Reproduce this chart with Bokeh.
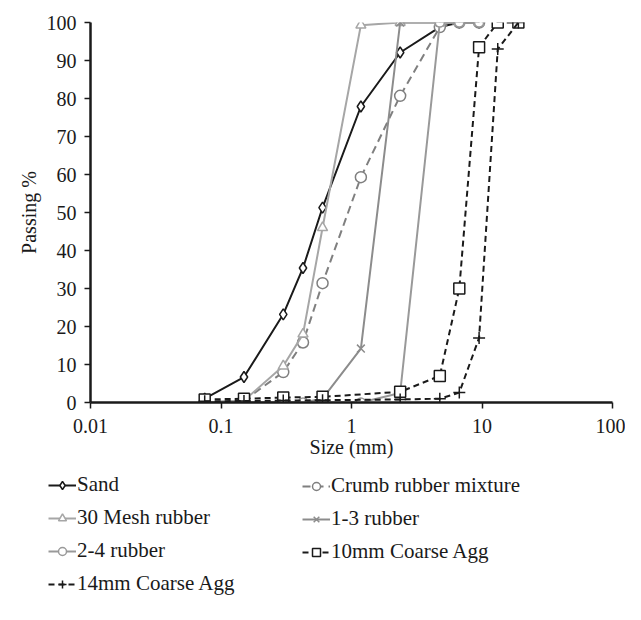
from bokeh.plotting import figure
from bokeh.models import Legend, LegendItem, FixedTicker
from bokeh.embed import file_html
from bokeh.resources import INLINE

# ---- data ----
sieves_fine = [0.075, 0.15, 0.3, 0.425, 0.6, 1.18, 2.36, 4.75, 6.7, 9.5]
sieves_coarse = [0.075, 0.15, 0.3, 0.6, 2.36, 4.75, 6.7, 9.5, 13.2, 19]

sand = [1.0, 6.7, 23.2, 35.4, 51.3, 77.9, 92.1, 98.8, 100, 100]
crumb = [0.0, 0.5, 8.0, 15.8, 31.4, 59.3, 80.7, 98.8, 100, 100]
mesh30 = [0.0, 0.5, 9.6, 18.0, 46.0, 99.3, 100, 100, 100, 100]
rub13 = [0.0, 0.0, 0.0, 0.0, 1.0, 14.2, 100, 100, 100, 100]
rub24 = [0.0, 0.0, 0.0, 0.0, 0.0, 0.0, 2.5, 100, 100, 100]
agg10 = [0.8, 1.0, 1.3, 1.5, 2.8, 7.0, 30.0, 93.5, 100, 100]
agg14 = [0.3, 0.4, 0.5, 0.6, 0.8, 1.0, 2.6, 17.0, 93.0, 100]

x_ticks = [0.01, 0.1, 1, 10, 100]
y_ticks = [0, 10, 20, 30, 40, 50, 60, 70, 80, 90, 100]

FONT = "Liberation Serif"
W = 625
H_MAIN = 460
H_LEG = 144

p = figure(width=W, height=H_MAIN, x_axis_type="log", x_range=(0.01, 100), y_range=(0, 100),
           output_backend="svg", toolbar_location=None,
           min_border_left=90, min_border_right=W - 612, min_border_top=22,
           min_border_bottom=H_MAIN - 403)
p.outline_line_color = None
p.xgrid.visible = False
p.ygrid.visible = False

for ax in (p.xaxis[0], p.yaxis[0]):
    ax.axis_line_width = 2.5
    ax.axis_line_color = "#1a1a1a"
    ax.major_tick_line_width = 1.5
    ax.major_tick_line_color = "#1a1a1a"
    ax.major_tick_out = 6
    ax.major_tick_in = 0
    ax.minor_tick_line_color = None
    ax.major_label_text_font = FONT
    ax.major_label_text_font_size = "20px"
    ax.major_label_text_color = "#1a1a1a"
    ax.axis_label_text_font = FONT
    ax.axis_label_text_font_size = "20px"
    ax.axis_label_text_font_style = "normal"
    ax.axis_label_text_color = "#1a1a1a"

p.xaxis.ticker = FixedTicker(ticks=x_ticks)
p.xaxis.major_label_overrides = {0.01: "0.01", 0.1: "0.1", 1: "1", 10: "10", 100: "100"}
p.yaxis.ticker = FixedTicker(ticks=y_ticks)
p.xaxis.axis_label = "Size (mm)"
p.yaxis.axis_label = "Passing %"
p.xaxis.major_label_standoff = 10
p.yaxis.major_label_standoff = 8
p.xaxis.axis_label_standoff = 0
p.yaxis.axis_label_standoff = 4

series = [
    ("Sand", sieves_fine, sand, "#1a1a1a", "solid", "diamond", 11),
    ("Crumb rubber mixture", sieves_fine, crumb, "#7f7f7f", "8 5", "circle", 11),
    ("30 Mesh rubber", sieves_fine, mesh30, "#a6a6a6", "solid", "triangle", 10),
    ("1-3 rubber", sieves_fine, rub13, "#8c8c8c", "solid", "x", 11),
    ("2-4 rubber", sieves_fine, rub24, "#999999", "solid", "circle", 9),
    ("10mm Coarse Agg", sieves_coarse, agg10, "#1a1a1a", "6 4", "square", 11),
    ("14mm Coarse Agg", sieves_coarse, agg14, "#1a1a1a", "6 4", "cross", 12),
]

# legend panel: a separate root below the chart; its series renderers lie outside its view
q = figure(width=W, height=H_LEG, x_range=(1000, 1001), y_range=(1000, 1001),
           output_backend="svg", toolbar_location=None,
           min_border_left=0, min_border_right=0, min_border_top=0, min_border_bottom=0)
q.axis.visible = False
q.grid.visible = False
q.outline_line_color = None

items = {}
for name, xs, ys, col, dash, marker, size in series:
    p.line(xs, ys, line_color=col, line_width=2, line_dash=dash)
    p.scatter(xs, ys, marker=marker, size=size, line_color=col, line_width=1.5,
              fill_color="white")
    ln = q.line(xs, ys, line_color=col, line_width=2, line_dash=dash)
    sc = q.scatter(xs, ys, marker=marker, size=size - 2, line_color=col, line_width=1.5,
                   fill_color="white")
    items[name] = LegendItem(label=name, renderers=[ln, sc])

def make_legend(names, loc):
    lg = Legend(items=[items[n] for n in names], location=loc, orientation="vertical",
                label_text_font=FONT, label_text_font_size="21px", label_text_color="#1a1a1a",
                glyph_width=28, glyph_height=20, label_height=24, label_standoff=1,
                spacing=8, padding=0, margin=0, border_line_color=None,
                background_fill_alpha=0)
    q.add_layout(lg, "center")

make_legend(["Sand", "30 Mesh rubber", "2-4 rubber", "14mm Coarse Agg"], (48, 8))
make_legend(["Crumb rubber mixture", "1-3 rubber", "10mm Coarse Agg"], (302, 40))

open("out.html", "w").write(file_html([p, q], INLINE))
